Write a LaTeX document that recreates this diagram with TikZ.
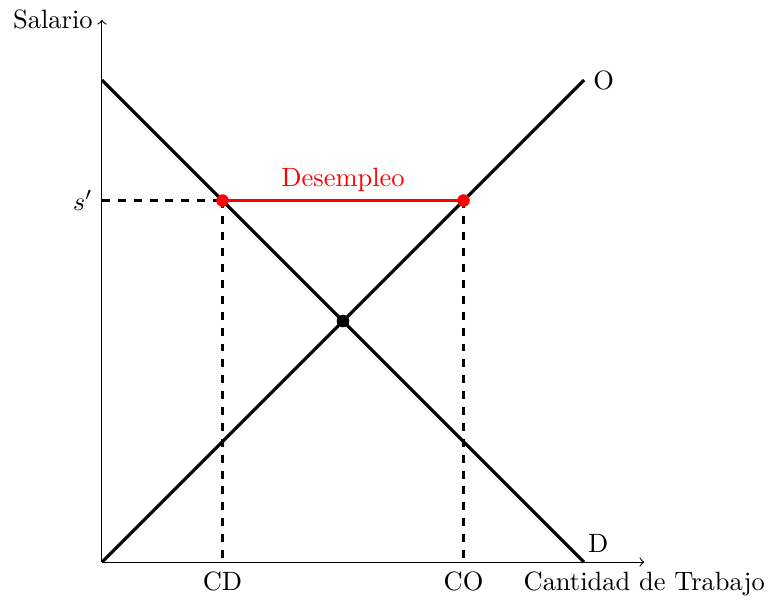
\documentclass[tikz,border=0pt]{standalone}
\usetikzlibrary{positioning,calc}
\begin{document}
\begin{tikzpicture}[x=1.6cm,y=1.6cm]
\useasboundingbox (-0.846,-0.307) rectangle (5.568,4.664);
% ejes
\coordinate (origen) at (0,0);
\coordinate (xfin) at (4.5,0);
\coordinate (yfin) at (0,4.5);
\draw[->] (origen) -- (xfin);
\draw[->] (origen) -- (yfin);
\node[left=0pt of yfin] (salario) {Salario};
\node[below=0pt of xfin] (cantidad) {Cantidad de Trabajo};

% oferta y demanda
\coordinate (d0) at (0,4);
\coordinate (d1) at (4,0);
\coordinate (o1) at (4,4);
\draw[very thick] (d0) -- (d1);
\draw[very thick] (origen) -- (o1);
\node[right=0pt of o1] (oferta) {O};
\node[above right=0pt and -2pt of d1] (demanda) {D};

% salario minimo
\coordinate (s) at (0,3);
\coordinate (pd) at (1,3);
\coordinate (po) at (3,3);
\coordinate (cd) at (1,0);
\coordinate (co) at (3,0);
\coordinate (medio) at ($(pd)!0.5!(po)$);
\draw[thick,dashed] (s) -- (pd);
\draw[thick,dashed] (pd) -- (cd);
\draw[thick,dashed] (po) -- (co);
\draw[thick,red] (pd) -- (po);
\fill[red] (pd) circle (0.052);
\fill[red] (po) circle (0.052);
\fill (2,2) circle (0.052);
\node[left=0pt of s] (sp) {$s'$};
\node[below=0pt of cd] (lcd) {CD};
\node[below=0pt of co] (lco) {CO};
\node[red,above=0pt of medio] (desempleo) {Desempleo};
\end{tikzpicture}
\end{document}
